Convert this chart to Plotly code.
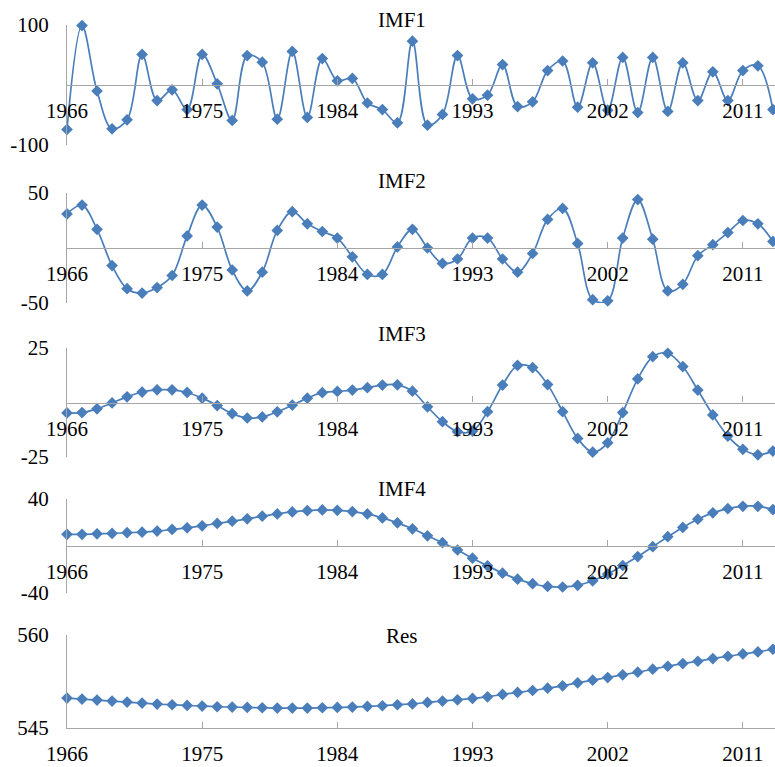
import plotly.graph_objects as go

years = list(range(1966, 2014))

imf1 = [-74, 99, -10, -73, -58, 51, -26, -8, -41, 51, 2, -59, 49, 38, -57, 56, -54, 44, 7, 11,
        -30, -41, -63, 73, -67, -49, 49, -23, -17, 34, -36, -28, 24, 40, -37, 37, -42, 46, -46, 46,
        -44, 37, -26, 22, -26, 24, 32, -41]
imf2 = [31, 39, 17, -16, -37, -41, -36, -25, 11, 39, 19, -20, -39, -22, 16, 33, 22, 15, 9, -8,
        -24, -24, 1, 17, 0, -14, -10, 9, 9, -10, -22, -5, 26, 36, 4, -47, -48, 9, 44, 8,
        -39, -33, -7, 3, 14, 25, 22, 6]
imf3 = [-4.8, -4.6, -2.9, -0.2, 2.6, 4.8, 5.8, 5.8, 4.6, 2.0, -1.4, -5.1, -7.1, -6.6, -4.3, -1.2,
        2.0, 4.5, 5.1, 5.7, 6.8, 8.0, 8.1, 5.2, -2.0, -8.8, -13.4, -13.1, -4.2, 8.0, 17.0, 16.0,
        8.2, -4.2, -16.5, -22.8, -18.5, -4.6, 10.8, 21.0, 22.6, 16.5, 5.7, -5.7, -15.4, -21.5,
        -24.0, -22.3]
imf4 = [9.9, 9.9, 10.4, 10.7, 11.3, 11.8, 12.7, 14.1, 15.5, 17.2, 19.2, 21.1, 23.1, 25.4, 27.3,
        29.0, 30.1, 30.7, 30.4, 29.3, 27.3, 23.9, 19.7, 14.6, 8.7, 2.8, -3.4, -10.4, -16.9, -23.1,
        -28.2, -32.1, -34.4, -34.9, -33.5, -29.6, -23.9, -16.6, -9.0, -0.6, 7.9, 15.8, 22.8, 28.2,
        31.8, 33.8, 33.8, 31.0]
res = [549.82, 549.66, 549.50, 549.34, 549.18, 549.02, 548.86, 548.75, 548.64, 548.54, 548.43,
       548.37, 548.32, 548.27, 548.21, 548.21, 548.21, 548.27, 548.32, 548.37, 548.48, 548.59,
       548.75, 548.88, 549.12, 549.34, 549.55, 549.77, 550.03, 550.41, 550.73, 551.05, 551.43,
       551.80, 552.28, 552.71, 553.14, 553.57, 554.00, 554.48, 554.96, 555.39, 555.77, 556.19,
       556.57, 556.94, 557.27, 557.70]

names = ["IMF1", "IMF2", "IMF3", "IMF4", "Res"]
series = [imf1, imf2, imf3, imf4, res]
yranges = [(-100, 100), (-50, 50), (-25, 25), (-40, 40), (545, 560)]
ytick_labels = [["-100", "100"], ["-50", "50"], ["-25", "25"], ["-40", "40"], ["545", "560"]]
xtick_vals = [1966, 1975, 1984, 1993, 2002, 2011]

W, H = 775, 767
panel_px = [(25, 145), (193, 303), (348, 457), (499, 593), (635, 728)]
title_px = [20, 181, 334, 489, 636]

BLUE = "#4A7EBB"
GRAY = "#A6A6A6"
FONT = "Liberation Serif"

fig = go.Figure()
layout = dict(width=W, height=H, margin=dict(l=0, r=0, t=0, b=0),
              paper_bgcolor="white", plot_bgcolor="white", showlegend=False)
annotations = []

for i, (nm, ys) in enumerate(zip(names, series)):
    k = "" if i == 0 else str(i + 1)
    fig.add_trace(go.Scatter(x=years, y=ys, mode="lines+markers",
                             line=dict(color=BLUE, width=1.7, shape="spline", smoothing=1.0),
                             marker=dict(symbol="diamond", size=9, color=BLUE),
                             cliponaxis=False,
                             xaxis="x" + k, yaxis="y" + k, name=nm))
    top, bot = panel_px[i]
    d0, d1 = 1 - bot / H, 1 - top / H
    ymin, ymax = yranges[i]
    if i < 4:
        pos = d0 + (0 - ymin) / (ymax - ymin) * (d1 - d0)
        xa = dict(anchor="free", position=pos)
    else:
        xa = dict(anchor="y" + k)
    xa.update(domain=[67 / W, 1], range=[1966, 2013.14], showgrid=False, zeroline=False,
              showline=True, linecolor=GRAY, linewidth=1.2,
              ticks="inside", ticklen=6, tickcolor=GRAY, tickwidth=1.2,
              tickvals=xtick_vals, ticktext=[str(v) for v in xtick_vals],
              tickfont=dict(family=FONT, size=21, color="black"),
              ticklabelstandoff=7, automargin=False)
    ya = dict(domain=[d0, d1], range=[ymin, ymax], anchor="x" + k, showgrid=False,
              zeroline=False, showline=True, linecolor=GRAY, linewidth=1.2,
              ticks="inside", ticklen=4, tickcolor=GRAY, tickwidth=1.2,
              tickvals=[ymin, ymax], ticktext=ytick_labels[i],
              tickfont=dict(family=FONT, size=21, color="black"),
              ticklabelstandoff=13, automargin=False)
    layout["xaxis" + k] = xa
    layout["yaxis" + k] = ya
    annotations.append(dict(text=nm, x=402 / W, y=1 - title_px[i] / H, xref="paper", yref="paper",
                            showarrow=False, xanchor="center", yanchor="middle",
                            font=dict(family=FONT, size=21, color="black")))

layout["annotations"] = annotations
fig.update_layout(**layout)
fig.write_html("out.html", config={"displayModeBar": False},
               post_script="document.body.style.margin='0px';document.body.style.overflow='hidden';")
